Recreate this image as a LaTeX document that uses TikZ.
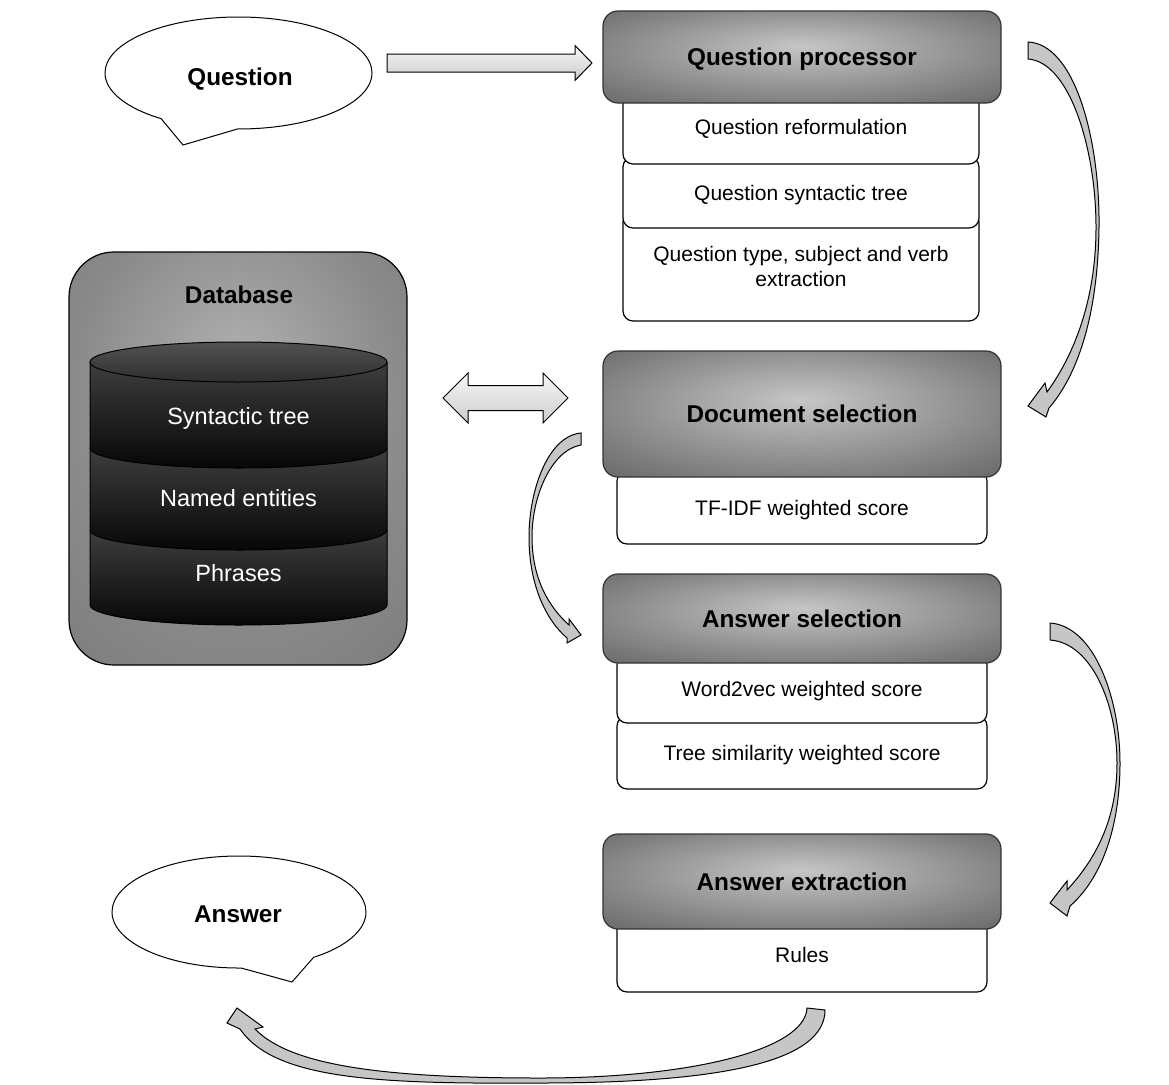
\documentclass[tikz,border=0pt]{standalone}
\usepackage{fontspec}
\setmainfont{Liberation Sans}
\usetikzlibrary{shapes.callouts}

% greys for the stage headers and the database panel
\definecolor{hdrA}{HTML}{C6C6C6}
\definecolor{hdrB}{HTML}{868686}
\definecolor{hdrC}{HTML}{666666}
\definecolor{dbA}{HTML}{AFAFAF}
\definecolor{dbB}{HTML}{8A8A8A}
\definecolor{dbC}{HTML}{717171}
\definecolor{lyrTop}{HTML}{3E3E3E}
\definecolor{lyrBot}{HTML}{070707}
\definecolor{bentfill}{HTML}{C6C6C6}

\pgfdeclareradialshading{hdrshade}{\pgfpoint{0bp}{6bp}}{%
  color(0bp)=(hdrA); color(25bp)=(hdrB); color(38bp)=(hdrC); color(50bp)=(hdrC)}
\pgfdeclareradialshading{dbshade}{\pgfpoint{0bp}{12bp}}{%
  color(0bp)=(dbA); color(25bp)=(dbB); color(50bp)=(dbC)}

\newcommand\HdFont{\fontsize{24.3}{29}\selectfont\bfseries}
\newcommand\SbFont{\fontsize{21}{24.5}\selectfont}
\newcommand\DbFont{\fontsize{23.5}{28}\selectfont}

% one slice of the database cylinder: top edge y=#1, bottom rim y=#2
\newcommand\DbLayer[2]{%
  \fill[top color=lyrTop, bottom color=lyrBot]
    (90,#1) -- (90,#2) .. controls (90,#2+11) and (156.5,#2+20) .. (238.5,#2+20)
    .. controls (320.5,#2+20) and (387,#2+11) .. (387,#2) -- (387,#1) -- cycle;
  \draw[line width=1pt]
    (90,#1) -- (90,#2) .. controls (90,#2+11) and (156.5,#2+20) .. (238.5,#2+20)
    .. controls (320.5,#2+20) and (387,#2+11) .. (387,#2) -- (387,#1);}

\begin{document}
\begin{tikzpicture}[x=1pt,y=-1pt,
  header/.style={shade, shading=hdrshade, draw=black!80, line width=1.2pt,
    rounded corners=15pt, inner sep=0pt, font=\HdFont, text depth=0pt},
  subbox/.style={draw=black, line width=1.2pt, fill=white, rounded corners=10pt,
    inner sep=0pt, font=\SbFont, align=center, text depth=0pt},
  speech/.style={ellipse callout, draw=black, line width=1pt, fill=white,
    inner sep=0pt, callout pointer arc=35},
  speechtext/.style={font=\HdFont, inner sep=0pt, text depth=0pt},
  dbbox/.style={shade, shading=dbshade, draw=black, line width=1.2pt,
    rounded corners=45pt, inner sep=0pt},
  dbtext/.style={text=white, font=\DbFont, inner sep=0pt, text depth=0pt},
  flatarrow/.style={draw=black, line width=1pt, top color=gray!6,
    bottom color=gray!40},
  bentarrow/.style={draw=black, line width=1pt, fill=bentfill, line join=miter}
]
\useasboundingbox (0,0) rectangle (1169,1084);

% ---------- speech bubbles ----------
\node[speech, minimum width=267pt, minimum height=112pt,
  callout absolute pointer={(183,145)}] (question) at (238.5,73) {};
\node[speechtext] (qtext) at (240,77) {Question};
\node[speech, minimum width=254pt, minimum height=112pt,
  callout absolute pointer={(292,982)}] (answer) at (239,912) {};
\node[speechtext] (atext) at (238,914) {Answer};

% ---------- database panel ----------
\node[dbbox, minimum width=338pt, minimum height=413pt] (db) at (238,458.5) {};
\node[font=\HdFont, inner sep=0pt] (dbtitle) at (239,295) {Database};
\DbLayer{530}{605}
\DbLayer{448}{530}
\DbLayer{362}{448}
\draw[line width=1pt, top color=black!68, bottom color=black!82]
  (238.5,362) ellipse [x radius=148.5, y radius=20];
\node[dbtext] (dbst) at (238.5,416) {Syntactic tree};
\node[dbtext] (dbne) at (238.5,498) {Named entities};
\node[dbtext] (dbph) at (238.5,573) {Phrases};

% ---------- Question processor ----------
\node[subbox, minimum width=356pt, minimum height=109pt] (qp3) at (801,266.5)
  {Question type, subject and verb\\extraction};
\node[subbox, minimum width=356pt, minimum height=71pt] (qp2) at (801,192.5)
  {Question syntactic tree};
\node[subbox, minimum width=356pt, minimum height=74pt] (qp1) at (801,127)
  {Question reformulation};
\node[header, minimum width=398pt, minimum height=92pt] (qp) at (802,57)
  {Question processor};

% ---------- Document selection ----------
\node[subbox, minimum width=370pt, minimum height=73pt] (ds1) at (802,507.5)
  {TF-IDF weighted score};
\node[header, minimum width=398pt, minimum height=126pt] (ds) at (802,414)
  {Document selection};

% ---------- Answer selection ----------
\node[subbox, minimum width=370pt, minimum height=73pt] (as2) at (802,752.5)
  {Tree similarity weighted score};
\node[subbox, minimum width=370pt, minimum height=68pt] (as1) at (802,689)
  {Word2vec weighted score};
\node[header, minimum width=398pt, minimum height=89pt] (as) at (802,618.5)
  {Answer selection};

% ---------- Answer extraction ----------
\node[subbox, minimum width=370pt, minimum height=74pt] (ae1) at (802,955)
  {Rules};
\node[header, minimum width=398pt, minimum height=95pt] (ae) at (802,881.5)
  {Answer extraction};

% ---------- block arrows ----------
% question -> question processor
\draw[flatarrow] (387,54) -- (575,54) -- (575,45.5) -- (592,63) -- (575,80.5)
  -- (575,72) -- (387,72) -- cycle;
% database <-> document selection
\draw[flatarrow] (443,398) -- (468,373) -- (468,385.5) -- (543,385.5) -- (543,373)
  -- (568,398) -- (543,423) -- (543,410.5) -- (468,410.5) -- (468,423) -- cycle;

% question processor -> document selection
\draw[bentarrow] (1028,42) .. controls (1075,44) and (1100,140) .. (1099,227)
  .. controls (1098,310) and (1080,372) .. (1049,408)
  -- (1046,417) -- (1028,406) -- (1045,383) -- (1047,392)
  .. controls (1074,355) and (1096,300) .. (1096,227)
  .. controls (1096,150) and (1070,62) .. (1028,59) -- cycle;

% document selection -> answer selection
\draw[bentarrow] (581,433) .. controls (548,436) and (529,490) .. (529,537)
  .. controls (529,585) and (546,620) .. (567,638)
  -- (567,643) -- (581,635) -- (569,619) -- (569,625)
  .. controls (550,608) and (532,580) .. (532,537)
  .. controls (532,495) and (552,450) .. (581,445) -- cycle;

% answer selection -> answer extraction
\draw[bentarrow] (1050,623) .. controls (1095,626) and (1120,700) .. (1120,763)
  .. controls (1120,830) and (1100,880) .. (1070,906)
  -- (1067,916) -- (1050,903) -- (1067,881) -- (1067,890)
  .. controls (1095,860) and (1117,820) .. (1117,763)
  .. controls (1117,705) and (1092,643) .. (1050,640) -- cycle;

% answer extraction -> answer
\draw[bentarrow] (825,1010) .. controls (825,1062) and (720,1083) .. (540,1083)
  .. controls (380,1084) and (275,1080) .. (240,1029)
  -- (227,1023) -- (237,1008) -- (263,1027) -- (255,1029)
  .. controls (290,1065) and (380,1078) .. (540,1078)
  .. controls (690,1078) and (805,1050) .. (807,1008) -- cycle;
\end{tikzpicture}
\end{document}
